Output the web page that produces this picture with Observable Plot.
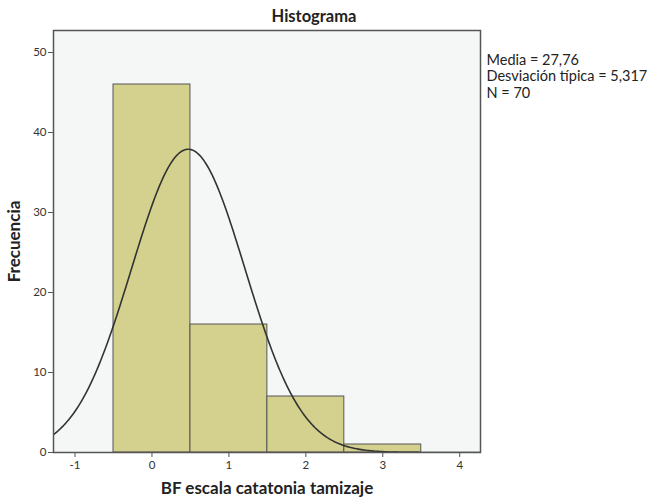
<!DOCTYPE html>
<html>
<head>
<meta charset="utf-8">
<script src="https://cdn.jsdelivr.net/npm/d3@7"></script>
<script src="https://cdn.jsdelivr.net/npm/@observablehq/plot@0.6"></script>
<style>
  body { margin: 0; background: #fff; }
  svg { font-family: Lato, "Open Sans", sans-serif; }
  g[aria-label="x-axis label"] text, g[aria-label="y-axis label"] text { font-weight: bold; font-size: 17px; fill: #222; }
</style>
</head>
<body>
<div id="chart"></div>
<script>
const binStart = [-0.5, 0.5, 1.5, 2.5];
const binEnd = [0.5, 1.5, 2.5, 3.5];
const binCenter = [0, 1, 2, 3];
const counts = [46, 16, 7, 1];
const xTicks = [-1, 0, 1, 2, 3, 4];
const yTicks = [0, 10, 20, 30, 40, 50];
const statsLines = ["Media = 27,76", "Desviación típica = 5,317", "N = 70"];

const bars = binStart.map((s, i) => ({x1: s, x2: binEnd[i], y: counts[i]}));

// fitted normal curve derived from the binned data (as SPSS overlays)
const n = d3.sum(counts);
const mean = d3.sum(counts.map((c, i) => c * binCenter[i])) / n;
const variance = d3.sum(counts.map((c, i) => c * (binCenter[i] - mean) ** 2)) / (n - 1);
const sd = Math.sqrt(variance);
const binWidth = 1;
const curve = d3.range(-1.3, 4.3, 0.02).map(x => ({
  x, y: n * binWidth * Math.exp(-0.5 * ((x - mean) / sd) ** 2) / (sd * Math.sqrt(2 * Math.PI))
}));

const fmt = d => String(d);

const chart = Plot.plot({
  width: 652,
  height: 500,
  marginLeft: 53,
  marginTop: 30,
  marginRight: 172,
  marginBottom: 48,
  style: {fontSize: "11.5px", color: "#333", background: "#fff"},
  x: {domain: [-1.28, 4.27]},
  y: {domain: [0, 52.75]},
  marks: [
    Plot.frame({fill: "#f5f7f7", stroke: null}),
    Plot.rectY(bars, {x1: "x1", x2: "x2", y: "y", fill: "#d4d18e", stroke: "#555", strokeWidth: 1}),
    Plot.line(curve, {x: "x", y: "y", stroke: "#333", strokeWidth: 1.6, clip: true, curve: "linear"}),
    Plot.frame({stroke: "#555", strokeWidth: 1.5}),
    Plot.axisX({ticks: xTicks, tickFormat: fmt, tickSize: 5, tickPadding: 3, stroke: "#555", label: "BF escala catatonia tamizaje", labelAnchor: "center", labelArrow: "none", labelOffset: 41}),
    Plot.axisY({ticks: yTicks, tickFormat: fmt, tickSize: 5, tickPadding: 2, stroke: "#555", label: "Frecuencia", labelAnchor: "center", labelArrow: "none", labelOffset: 46}),
    Plot.text(["Histograma"], {frameAnchor: "top", lineAnchor: "middle", dx: 47, dy: -14, fontWeight: "bold", fontSize: 16.5, fill: "#222"}),
    Plot.text([statsLines.join("\n")], {frameAnchor: "top-right", textAnchor: "start", lineAnchor: "top", lineHeight: 1.12, dx: 6, dy: 23, fontSize: 14.5, fill: "#222"})
  ]
});
document.getElementById("chart").appendChild(chart);
</script>
</body>
</html>
